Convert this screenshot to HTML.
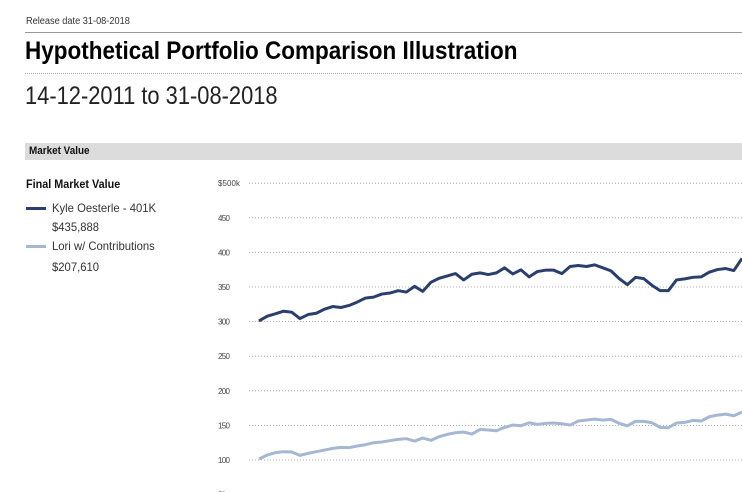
<!DOCTYPE html>
<html><head><meta charset="utf-8"><style>
html,body{margin:0;padding:0;background:#fff;width:742px;height:492px;overflow:hidden}
body{position:relative;font-family:"Liberation Sans Narrow","Liberation Sans",sans-serif;color:#111}
.a{position:absolute;white-space:nowrap;transform-origin:0 0}
</style></head><body>
<div class="a" style="left:26px;top:16px;font-size:10px;color:#333;transform:scaleX(0.92)">Release date 31-08-2018</div>
<div class="a" style="left:25px;top:32px;width:717px;height:1px;background:#999"></div>
<div class="a" style="left:25px;top:37px;font-size:25px;font-weight:bold;color:#000;transform:scaleX(0.9)">Hypothetical Portfolio Comparison Illustration</div>
<div class="a" style="left:25px;top:73px;width:717px;border-top:1px dotted #aaa"></div>
<div class="a" style="left:25px;top:82px;font-size:25px;color:#222;transform:scaleX(0.875)">14-12-2011 to 31-08-2018</div>
<div class="a" style="left:25px;top:143px;width:717px;height:17px;background:#dcdcdc;"></div>
<div class="a" style="left:29px;top:143px;font-size:11px;font-weight:bold;line-height:17px;transform:scaleX(0.9)">Market Value</div>
<div class="a" style="left:26px;top:177px;font-size:12px;font-weight:bold;transform:scaleX(0.9)">Final Market Value</div>
<div class="a" style="left:26px;top:207px;width:20px;height:3px;background:#2b3f6e"></div>
<div class="a" style="left:52px;top:201px;font-size:12px;color:#333;transform:scaleX(0.94)">Kyle Oesterle - 401K</div>
<div class="a" style="left:52px;top:220px;font-size:12px;color:#333;transform:scaleX(0.94)">$435,888</div>
<div class="a" style="left:26px;top:245px;width:20px;height:3px;background:#a5b7d3"></div>
<div class="a" style="left:52px;top:239px;font-size:12px;color:#333;transform:scaleX(0.94)">Lori w/ Contributions</div>
<div class="a" style="left:52px;top:260px;font-size:12px;color:#333;transform:scaleX(0.94)">$207,610</div>
<svg id="chart" width="742" height="492" style="position:absolute;left:0;top:0"></svg>
<script>
const tickValues=[50,100,150,200,250,300,350,400,450,500];
const tickLabels=["50","100","150","200","250","300","350","400","450","$500k"];
const kyle=[301,307.8,311.2,315,313.6,304.4,310.2,312.1,318,321.8,320.4,323.3,328.2,334,335.4,339.8,341.3,344.7,342.7,351,343.7,356.8,362.6,366,369.4,360.2,368.4,370.4,368,370.4,377.7,368.9,374.8,364.6,372.3,374.3,374.3,369.4,379.6,381,379.6,382,377.7,373.3,362.1,353.4,364,362.1,352.4,344.7,344.7,360.2,361.7,364,364.6,371.4,375.2,376.7,373.8,391.3];
const lori=[101.4,107.2,110.6,112,111.5,106.7,109.6,112,114.4,116.8,118.3,117.8,120.2,122.1,125,126,127.9,129.8,130.8,127.4,131.7,128.4,133.7,137,139.4,140.4,137.5,144.2,143.3,142.3,147.1,150.5,149.5,153.8,151.4,152.9,153.4,152.4,150.5,156.3,157.7,159.1,157.7,158.7,152.9,149.5,155.8,155.8,153.8,147.1,146.6,153.4,154.3,157.2,156.3,162.5,164.9,166.3,163.9,169.2];
const NS="http://www.w3.org/2000/svg";
const svg=document.getElementById('chart');
const y=v=>460-(v-100)*34.6/50;
const x=i=>259+i*(742-259)/(kyle.length-1);
tickValues.forEach((t,k)=>{
  const g=document.createElementNS(NS,'line');
  
  
  g.setAttribute('x1',249);g.setAttribute('x2',742);g.setAttribute('y1',y(t));g.setAttribute('y2',y(t));
  g.setAttribute('stroke','#999');g.setAttribute('stroke-dasharray','1 2');g.setAttribute('stroke-width','0.8');
  svg.appendChild(g);
  const tx=document.createElementNS(NS,'text');
  
  
  tx.setAttribute('x',218);tx.setAttribute('y',y(t)+3);
  tx.setAttribute('font-size','8');tx.setAttribute('fill','#444');
  tx.setAttribute('textLength',t===500?22:(t<100?8:12));
  tx.setAttribute('font-family','"Liberation Sans Narrow","Liberation Sans",sans-serif');
  tx.textContent=tickLabels[k];
  svg.appendChild(tx);
});
function line(data,color,name){
  const p=document.createElementNS(NS,'polyline');
  
  
  p.setAttribute('points',data.map((v,i)=>x(i)+','+y(v)).join(' '));
  p.setAttribute('fill','none');p.setAttribute('stroke',color);p.setAttribute('stroke-width','3');
  p.setAttribute('stroke-linejoin','round');
  svg.appendChild(p);
}
line(lori,'#a5b7d3','series-lori');
line(kyle,'#2b3f6e','series-kyle');
</script>
</body></html>
